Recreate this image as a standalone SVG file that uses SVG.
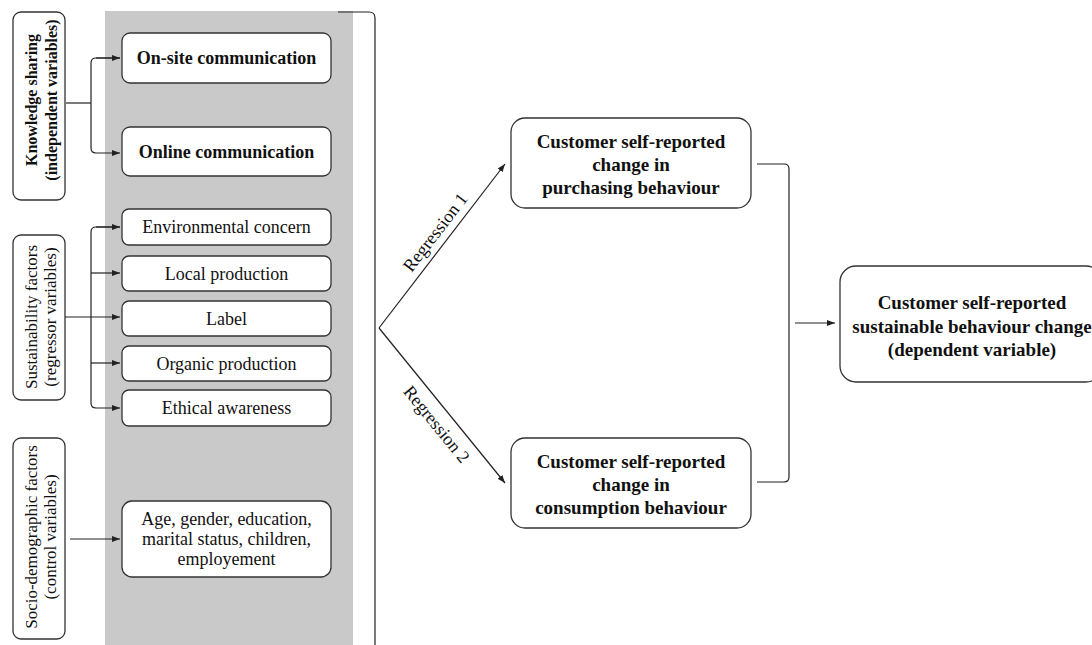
<svg xmlns="http://www.w3.org/2000/svg" width="1092" height="645" viewBox="0 0 1092 645">
<style>
.box{fill:#fff;stroke:#333;stroke-width:1.3}
.t{font-family:"Liberation Serif","Times New Roman",serif;fill:#111;text-anchor:middle}
.b{font-weight:bold}
.s18{font-size:18px}
.s19{font-size:19px}
.s17{font-size:17px}
.s16{font-size:16px}
.ln{fill:none;stroke:#222;stroke-width:1.2}
</style>
<defs>
<marker id="ah" viewBox="0 0 8 6" refX="8" refY="3" markerWidth="8" markerHeight="6" markerUnits="userSpaceOnUse" orient="auto">
<path d="M0,0 L8,3 L0,6 z" fill="#222"/>
</marker>
</defs>
<rect width="1092" height="645" fill="#fff"/>
<rect id="panel" x="105" y="11" width="248" height="634" fill="#c9c9c9"/>

<g id="knowledge">
<rect class="box" x="13" y="12" width="52" height="188" rx="8"/>
<text class="t b s16" transform="translate(37,100) rotate(-90)">Knowledge sharing</text>
<text class="t b s16" transform="translate(57,100) rotate(-90)">(independent variables)</text>
</g>
<g id="sustainability">
<rect class="box" x="13" y="235" width="52" height="165" rx="8"/>
<text class="t s17" transform="translate(37,317) rotate(-90)">Sustainability factors</text>
<text class="t s17" transform="translate(56,317) rotate(-90)">(regressor variables)</text>
</g>
<g id="socio">
<rect class="box" x="13" y="438" width="52" height="201" rx="8"/>
<text class="t s17" transform="translate(37,537) rotate(-90)">Socio-demographic factors</text>
<text class="t s17" transform="translate(56,537) rotate(-90)">(control variables)</text>
</g>

<g id="onsite"><rect class="box" x="122" y="33" width="209" height="50" rx="8"/><text class="t b s18" x="226.5" y="64">On-site communication</text></g>
<g id="online"><rect class="box" x="122" y="127" width="209" height="49" rx="8"/><text class="t b s18" x="226.5" y="158">Online communication</text></g>
<g id="env"><rect class="box" x="122" y="209" width="209" height="36" rx="7"/><text class="t s18" x="226.5" y="233">Environmental concern</text></g>
<g id="local"><rect class="box" x="122" y="256" width="209" height="35" rx="7"/><text class="t s18" x="226.5" y="280">Local production</text></g>
<g id="label"><rect class="box" x="122" y="301" width="209" height="35" rx="7"/><text class="t s18" x="226.5" y="325">Label</text></g>
<g id="organic"><rect class="box" x="122" y="346" width="209" height="35" rx="7"/><text class="t s18" x="226.5" y="370">Organic production</text></g>
<g id="ethical"><rect class="box" x="122" y="390" width="209" height="36" rx="7"/><text class="t s18" x="226.5" y="414">Ethical awareness</text></g>
<g id="demo"><rect class="box" x="122" y="501" width="209" height="76" rx="10"/>
<text class="t s18" x="226.5" y="525">Age, gender, education,</text>
<text class="t s18" x="226.5" y="545">marital status, children,</text>
<text class="t s18" x="226.5" y="565">employement</text></g>

<g id="purchasing"><rect class="box" x="511" y="118" width="240" height="90" rx="14"/>
<text class="t b s19" x="631" y="148">Customer self-reported</text>
<text class="t b s19" x="631" y="171">change in</text>
<text class="t b s19" x="631" y="194">purchasing behaviour</text></g>
<g id="consumption"><rect class="box" x="511" y="438" width="240" height="90" rx="14"/>
<text class="t b s19" x="631" y="468">Customer self-reported</text>
<text class="t b s19" x="631" y="491">change in</text>
<text class="t b s19" x="631" y="514">consumption behaviour</text></g>
<g id="dependent"><rect class="box" x="840" y="266" width="262" height="116" rx="16"/>
<text class="t b s19" x="972" y="309">Customer self-reported</text>
<text class="t b s19" x="972" y="333">sustainable behaviour change</text>
<text class="t b s19" x="972" y="356">(dependent variable)</text></g>

<g id="connectors">
<path class="ln" d="M66,103 H91"/>
<path class="ln" d="M120,58 H96 Q91,58 91,63 V148 Q91,153 96,153 H120" marker-end="url(#ah)"/>
<path class="ln" d="M96,58 H120" marker-end="url(#ah)"/>
<path class="ln" d="M120,227 H96 Q91,227 91,232 V403 Q91,408 96,408 H120" marker-end="url(#ah)"/>
<path class="ln" d="M96,227 H120" marker-end="url(#ah)"/>
<path class="ln" d="M91,273 H120" marker-end="url(#ah)"/>
<path class="ln" d="M65,317 H120" marker-end="url(#ah)"/>
<path class="ln" d="M91,363 H120" marker-end="url(#ah)"/>
<path class="ln" d="M70,539 H120" marker-end="url(#ah)"/>
<path class="ln" d="M338,12 H369 Q375,12 375,18 V645"/>
<path class="ln" d="M379,328 L505,164" marker-end="url(#ah)"/>
<path class="ln" d="M379,328 L505,483" marker-end="url(#ah)"/>
<path class="ln" d="M757,164 H784 Q789,164 789,169 V477 Q789,482 784,482 H757"/>
<path class="ln" d="M795,323 H835" marker-end="url(#ah)"/>
<text class="t s18" transform="translate(440,236) rotate(-52.5)">Regression 1</text>
<text class="t s18" transform="translate(432,428) rotate(50.9)">Regression 2</text>
</g>
</svg>
